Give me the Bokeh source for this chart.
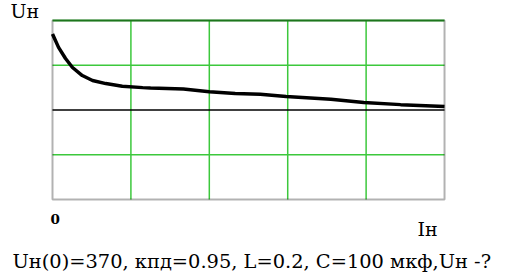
from bokeh.plotting import figure
from bokeh.models import Range1d, BoxAnnotation
from bokeh.core.properties import value
from bokeh.embed import file_html
from bokeh.resources import INLINE

# data (arbitrary units: I in grid divisions, U in volts)
i_load = [0.0, 0.077, 0.166, 0.255, 0.38, 0.51, 0.68, 0.89, 1.15, 1.25, 1.67,
          2.0, 2.33, 2.65, 2.98, 3.55, 3.97, 4.44, 5.0]
u_load = [370, 340, 315, 295, 277, 266, 259, 253, 250, 249, 247,
          241, 237, 235, 230, 224, 217, 212, 208]
x_min, x_max = 0, 5
y_min, y_max = 0, 400
x_grid = [1, 2, 3, 4]
y_grid = [100, 300]
y_mid = 200

title_y = "Uн"
title_x = "Iн"
origin_label = "0"
caption = "Uн(0)=370, кпд=0.95, L=0.2, C=100 мкф,Uн -?"

W, H = 500, 276
# the plotting frame covers the whole canvas; the chart box sits inside it
p = figure(width=W, height=H, output_backend="svg", toolbar_location=None,
           x_range=Range1d(-0.6633, 5.714), y_range=Range1d(-172.1, 444.7),
           min_border=0)
p.xaxis.visible = False
p.yaxis.visible = False
p.xgrid.visible = False
p.ygrid.visible = False
p.background_fill_color = "white"
p.border_fill_color = "white"
p.outline_line_color = None

green = "#3cc83c"
p.segment(x0=x_grid, y0=[y_min] * len(x_grid), x1=x_grid, y1=[y_max] * len(x_grid),
          line_color=green, line_width=1.5)
p.segment(x0=[x_min] * len(y_grid), y0=y_grid, x1=[x_max] * len(y_grid), y1=y_grid,
          line_color=green, line_width=1.5)
p.segment(x0=[x_min], y0=[y_mid], x1=[x_max], y1=[y_mid],
          line_color="black", line_width=1.5)

p.add_layout(BoxAnnotation(left=x_min, right=x_max, bottom=y_min, top=y_max,
                           fill_alpha=0, line_color="black", line_width=2))
p.segment(x0=[x_min], y0=[y_max], x1=[x_max], y1=[y_max],
          line_color="#2aa82a", line_width=2)

p.line(i_load, u_load, line_color="black", line_width=3.5)

font = value("DejaVu Serif")
p.text(x=[-0.536], y=[421], text=[title_y], text_font=font,
       text_font_size="19px", text_color="black", text_baseline="middle")
p.text(x=[-0.026], y=[-43.6], text=[origin_label], text_font=font,
       text_font_size="13.5px", text_font_style="bold", text_color="black",
       text_baseline="middle")
p.text(x=[4.656], y=[-67], text=[title_x], text_font=font,
       text_font_size="19px", text_color="black", text_baseline="middle")
p.text(x=[-0.51], y=[-139], text=[caption], text_font=font,
       text_font_size="19.4px", text_color="black", text_baseline="middle")

open("out.html", "w").write(file_html(p, INLINE))
